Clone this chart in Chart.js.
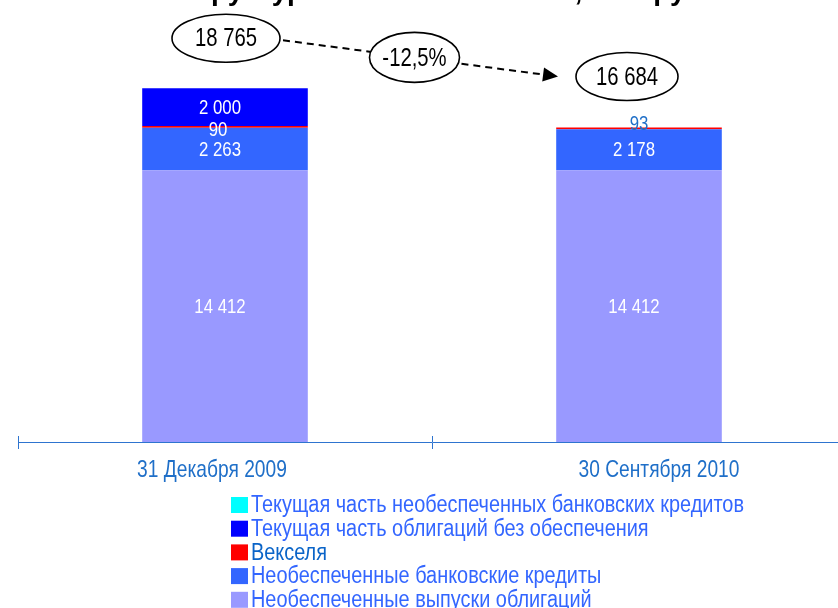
<!DOCTYPE html>
<html><head><meta charset="utf-8">
<script src="https://cdn.jsdelivr.net/npm/chart.js@4.4.1/dist/chart.umd.min.js"></script>
<style>html,body{margin:0;padding:0;overflow:hidden;background:#fff;width:838px;height:608px}#wrap{position:absolute;left:0;top:0;width:846px;height:608px}</style>
</head><body><div id="wrap"><canvas id="c" width="846" height="608"></canvas></div>
<script>
// ---- data ----
const categories = ['31 Декабря 2009', '30 Сентября 2010'];
const seriesNames = ['Необеспеченные выпуски облигаций', 'Необеспеченные банковские кредиты', 'Векселя', 'Текущая часть облигаций без обеспечения', 'Текущая часть необеспеченных банковских кредитов'];
const bondIssues = [14412, 14412];
const bankLoans = [2263, 2178];
const bills = [90, 93];
const currentBonds = [2000, 0];
const currentLoans = [0, 0];
const totals = [18765, 16684];
const changeLabel = '-12,5%';
const titleText = 'Структура займов Компании, млн руб';

// ---- styles ----
const FONT = "'Liberation Sans', Arial, sans-serif";
const seriesColors = ['#9999FF', '#3366FF', '#FF0000', '#0000FF', '#00FFFF'];
const legendTextColors = ['#3366FF', '#3366FF', '#0A64C8', '#3366FF', '#3366FF'];
const labelStyles = {2: [{color: '#FFFFFF', dy: 3, dx: -7}, {color: '#1F6FC8', dy: -5, dx: 0}]};
const axisColor = '#2E74CF';
const tickLabelOffsets = [-13, 20];

function fmt(v) { return String(v).replace(/\B(?=(\d{3})+(?!\d))/g, ' '); }

// narrow text: Liberation Sans compressed horizontally (Arial Narrow look)
function narrowText(ctx, text, x, y, size, color, align, sx) {
  ctx.save();
  ctx.translate(x, y);
  ctx.scale(sx || 0.82, 1);
  ctx.font = size + 'px ' + FONT;
  ctx.fillStyle = color;
  ctx.textAlign = align || 'center';
  ctx.textBaseline = 'middle';
  ctx.fillText(text, 0, 0);
  ctx.restore();
}

const overlay = {
  id: 'overlay',
  afterDatasetsDraw(chart) {
    const ctx = chart.ctx;
    chart.data.datasets.forEach((ds, di) => {
      const meta = chart.getDatasetMeta(di);
      meta.data.forEach((el, i) => {
        const v = ds.data[i];
        if (!v) return;
        const st = (labelStyles[di] && labelStyles[di][i]) || {color: '#FFFFFF', dy: 0, dx: -5};
        narrowText(ctx, fmt(v), el.x + st.dx, (el.y + el.base) / 2 + st.dy + 1, 20, st.color, 'center', 0.84);
      });
    });
  },
  afterDraw(chart) {
    const ctx = chart.ctx;
    const xs = chart.scales.x, ys = chart.scales.y;
    const a = chart.chartArea;
    // upward part of axis ticks
    ctx.save();
    ctx.strokeStyle = axisColor; ctx.lineWidth = 1;
    const tx = [a.left, (xs.getPixelForValue(0) + xs.getPixelForValue(1)) / 2, a.right];
    tx.forEach(x => { ctx.beginPath(); ctx.moveTo(Math.round(x) + 0.5, a.bottom - 6); ctx.lineTo(Math.round(x) + 0.5, a.bottom); ctx.stroke(); });
    ctx.restore();

    // category labels
    categories.forEach((c, i) => {
      narrowText(ctx, c, xs.getPixelForValue(i) + tickLabelOffsets[i], a.bottom + 28, 24, '#1F6FC8', 'center', 0.8);
    });

    // total ellipses
    const p0 = {x: xs.getPixelForValue(0) + 1, y: ys.getPixelForValue(totals[0]) - 50};
    const p1 = {x: xs.getPixelForValue(1) - 12, y: ys.getPixelForValue(totals[1]) - 51};
    const pm = {x: (p0.x + p1.x) / 2 - 12, y: (p0.y + p1.y) / 2};
    // dashed arrow
    ctx.save();
    ctx.strokeStyle = '#000'; ctx.lineWidth = 2; ctx.setLineDash([7, 5]);
    const sx = p0.x + 57, sy = p0.y + 2, ex = p1.x - 69, ey = p1.y;
    const ang = Math.atan2(ey - sy, ex - sx);
    ctx.beginPath(); ctx.moveTo(sx, sy); ctx.lineTo(ex - 12 * Math.cos(ang), ey - 12 * Math.sin(ang)); ctx.stroke();
    ctx.setLineDash([]);
    ctx.fillStyle = '#000';
    ctx.beginPath();
    ctx.moveTo(ex, ey);
    ctx.lineTo(ex - 15 * Math.cos(ang) + 7 * Math.sin(ang), ey - 15 * Math.sin(ang) - 7 * Math.cos(ang));
    ctx.lineTo(ex - 15 * Math.cos(ang) - 7 * Math.sin(ang), ey - 15 * Math.sin(ang) + 7 * Math.cos(ang));
    ctx.closePath(); ctx.fill();
    ctx.restore();

    function oval(p, rx, ry, text) {
      ctx.save();
      ctx.beginPath(); ctx.ellipse(p.x, p.y, rx, ry, 0, 0, Math.PI * 2);
      ctx.fillStyle = '#fff'; ctx.fill();
      ctx.lineWidth = 1.6; ctx.strokeStyle = '#000'; ctx.stroke();
      ctx.restore();
      narrowText(ctx, text, p.x, p.y + 1, 26, '#000', 'center', 0.78);
    }
    oval(p0, 54, 24, fmt(totals[0]));
    oval(pm, 45, 25, changeLabel);
    oval(p1, 51, 24, fmt(totals[1]));

    // title (cut off at top)
    ctx.save();
    ctx.font = 'bold 28px ' + FONT;
    ctx.fillStyle = '#000'; ctx.textAlign = 'center'; ctx.textBaseline = 'alphabetic';
    ctx.fillText(titleText, 440, 0);
    ctx.restore();

    // legend (reverse order, one column)
    const n = seriesNames.length;
    for (let k = 0; k < n; k++) {
      const di = n - 1 - k;
      const cy = 505 + k * 23.7;
      ctx.fillStyle = seriesColors[di];
      ctx.fillRect(231, cy - 8, 17, 16);
      narrowText(ctx, seriesNames[di], 251, cy + 1, 23, legendTextColors[di], 'left', 0.865);
    }
  }
};

const datasets = [bondIssues, bankLoans, bills, currentBonds, currentLoans].map((d, i) => ({
  label: seriesNames[i], data: d, backgroundColor: seriesColors[i], borderWidth: 0,
  barPercentage: 0.4, categoryPercentage: 1.0
}));

new Chart(document.getElementById('c'), {
  type: 'bar',
  data: {labels: categories, datasets},
  options: {
    responsive: false, animation: false,
    layout: {padding: {left: 18, right: 0, top: 65, bottom: 159}},
    plugins: {legend: {display: false}, tooltip: {enabled: false}},
    scales: {
      x: {
        stacked: true,
        grid: {display: true, drawOnChartArea: false, color: axisColor, tickLength: 7, offset: true},
        border: {display: true, color: axisColor, width: 1},
        ticks: {display: false}
      },
      y: {stacked: true, display: false, min: 0, max: 20000}
    }
  },
  plugins: [overlay]
});
</script></body></html>
